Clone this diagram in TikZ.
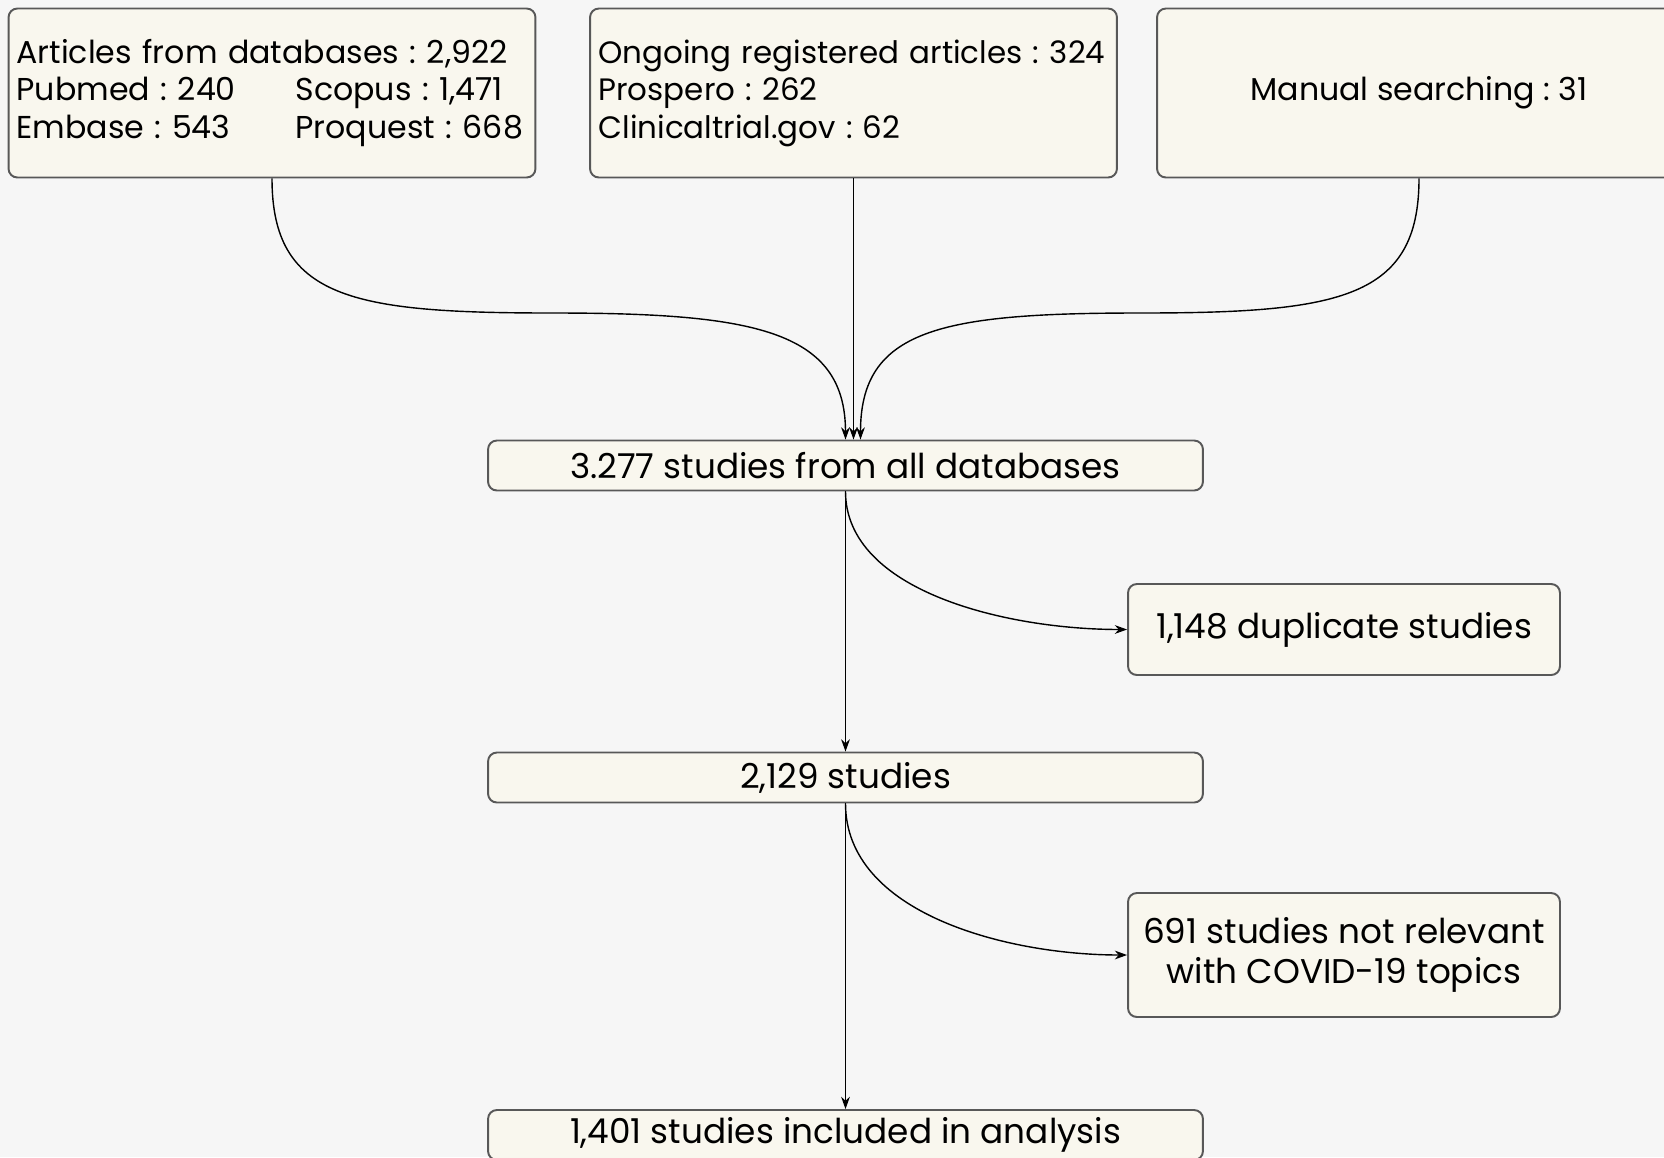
\documentclass[tikz,border=0pt]{standalone}
\usepackage{fontspec}
\setmainfont{Poppins}
\frenchspacing
\usetikzlibrary{positioning,arrows.meta,calc}
\definecolor{Edge}{RGB}{88,88,88}
\definecolor{Cream}{RGB}{249,247,238}
\definecolor{Paper}{RGB}{246,246,246}

\begin{document}
\begin{tikzpicture}[x=0.02cm,y=-0.02cm,
 b/.style={rounded corners=5pt,draw=Edge,line width=1.1pt,fill=Cream,inner sep=0pt,font=\fontsize{18}{21.3}\selectfont},
 top/.style={b,minimum width=10.54cm,minimum height=3.38cm},
 w/.style={b,minimum width=14.3cm,minimum height=1cm,font=\fontsize{19.5}{22}\selectfont},
 s/.style={b,minimum width=8.64cm,align=center,font=\fontsize{19.5}{22.8}\selectfont},
 a/.style={-{Stealth[length=7pt,width=5pt]},line width=0.8pt,black}]
\fill[Paper] (0,0) rectangle (1664,1157);
\useasboundingbox (0,0) rectangle (1664,1157);
\node[top,text width=10.22cm,align=left] (db) at (272,93) {Articles from databases : 2,922\\
\makebox[5.58cm][l]{Pubmed : 240}Scopus : 1,471\\
\makebox[5.58cm][l]{Embase : 543}Proquest : 668};
\node[top,text width=10.2cm,align=left,font=\fontsize{17.6}{21.3}\selectfont] (reg) at (853.5,93) {Ongoing registered articles : 324\\
Prospero : 262\\
Clinicaltrial.gov : 62};
\node[top,minimum width=10.48cm,align=center] (man) at (1419,93) {Manual searching : 31};
\node[w] (all) at (845.5,465.5) {3.277 studies from all databases};
\node[s,minimum height=1.82cm] (dup) at (1344,629.5) {1,148 duplicate studies};
\node[w] (mid) at (845.5,777.5) {2,129 studies};
\node[s,minimum height=2.48cm] (norel) at (1344,955) {691 studies not relevant\\with COVID-19 topics};
\node[w] (incl) at (845.5,1135) {1,401 studies included in analysis};
\coordinate (jl) at (552,313);
\coordinate (jr) at (1140,313);
\draw[a] (db.south) .. controls +(0,120) and +(-200,0) .. (jl) .. controls +(200,0) and +(0,-110) .. (all.north);
\draw[a] (reg.south) -- (reg.south |- all.north);
\draw[a] (man.south) .. controls +(0,120) and +(200,0) .. (jr) .. controls +(-200,0) and +(0,-110) .. ([xshift=0.3cm]all.north);
\draw[a] (all.south) -- (mid.north);
\draw[a] (all.south) .. controls +(0,100) and +(-120,0) .. (dup.west);
\draw[a] (mid.south) -- (incl.north);
\draw[a] (mid.south) .. controls +(0,110) and +(-120,0) .. (norel.west);
\end{tikzpicture}
\end{document}
